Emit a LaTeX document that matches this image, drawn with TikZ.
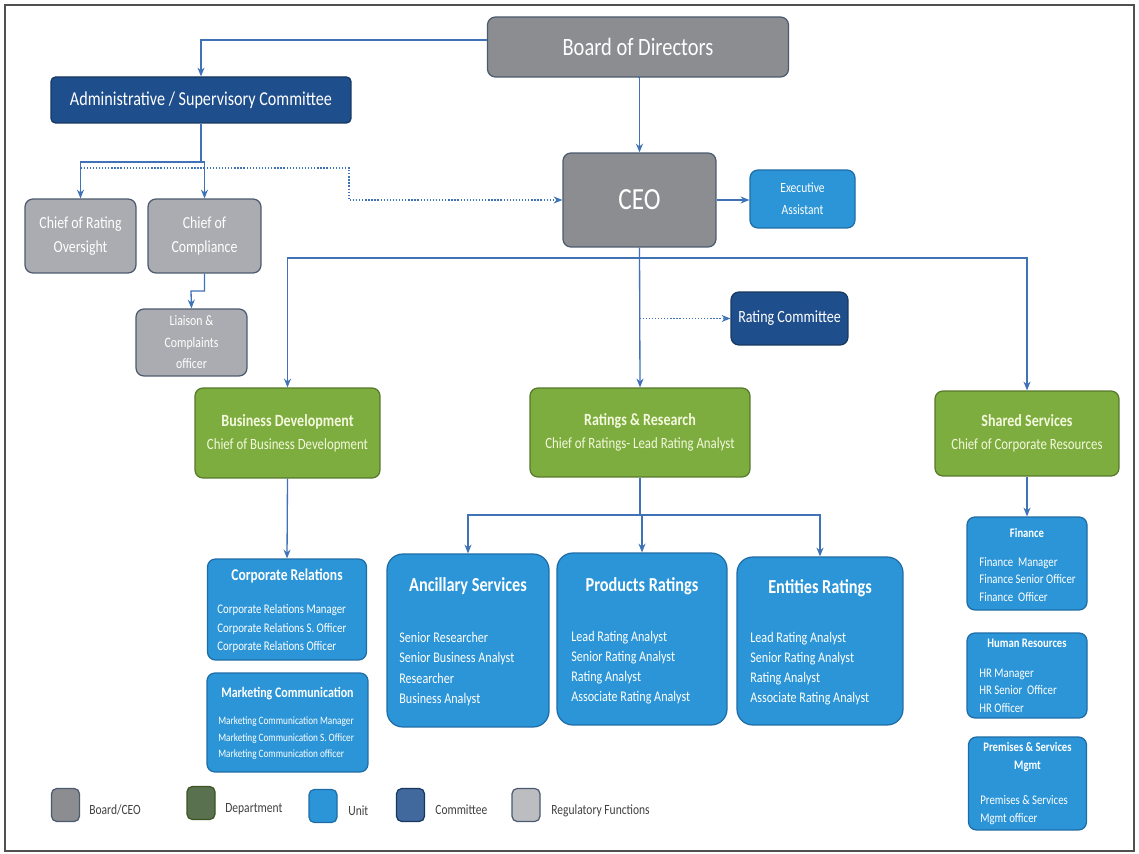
\documentclass[tikz,border=0pt]{standalone}
\usepackage{fontspec}
\setmainfont{Carlito}[FakeStretch=0.82]
\usepackage{tikz}
\usetikzlibrary{arrows.meta}
\definecolor{boardgray}{HTML}{8C8D90}
\definecolor{boardedge}{HTML}{4B5A6E}
\definecolor{regugray}{HTML}{AAACB1}
\definecolor{commblue}{HTML}{1F4E8C}
\definecolor{commedge}{HTML}{17375F}
\definecolor{deptgreen}{HTML}{7DAD3E}
\definecolor{deptedge}{HTML}{56782B}
\definecolor{deptlegend}{HTML}{5A7150}
\definecolor{unitblue}{HTML}{2B95D7}
\definecolor{unitedge}{HTML}{1E6CA6}
\definecolor{linkblue}{HTML}{3F72B6}
\definecolor{depttext}{HTML}{F4F8DE}
\definecolor{legendtext}{HTML}{404040}
\definecolor{framegray}{HTML}{505050}
\tikzset{
  orgbox/.style={draw, line width=0.7pt, rounded corners=4.5pt, inner sep=0pt, align=center, text=white},
  boardbox/.style={orgbox, fill=boardgray, draw=boardedge},
  regbox/.style={orgbox, fill=regugray, draw=boardedge},
  commbox/.style={orgbox, fill=commblue, draw=commedge},
  deptbox/.style={orgbox, fill=deptgreen, draw=deptedge, text=depttext},
  unitbox/.style={orgbox, fill=unitblue, draw=unitedge},
  bigunit/.style={unitbox, rounded corners=9pt},
  boxtext/.style={inner sep=0pt, text=white, align=left},
  boxtitle/.style={inner sep=0pt, text=white, align=center},
  link/.style={draw=linkblue, line width=0.75pt, -{Stealth[length=5pt,width=4pt]}},
  dotlink/.style={link, densely dotted},
  bar/.style={draw=linkblue, line width=0.75pt},
  legendsq/.style={draw, line width=0.7pt, rounded corners=3pt, minimum width=0.56cm, minimum height=0.66cm},
  legendlabel/.style={anchor=west, inner sep=0pt, text=legendtext, font=\fontsize{8}{10}\selectfont}
}
\begin{document}
\begin{tikzpicture}[x=0.02cm, y=-0.02cm]
\useasboundingbox (0,0) rectangle (1139,854);
\draw[framegray, line width=1pt] (5,5) rectangle (1134,851);

\node[boardbox, minimum width=6.02cm, minimum height=1.2cm, font=\fontsize{14.2}{17}\selectfont] (board) at (638,47) {Board of Directors};
\node[commbox, minimum width=6cm, minimum height=0.92cm, rounded corners=2.5pt, font=\fontsize{11.2}{13}\selectfont] (admin) at (201,100) {Administrative / Supervisory Committee};
\node[boardbox, minimum width=3.06cm, minimum height=1.88cm, font=\fontsize{17.5}{20}\selectfont] (ceo) at (639.5,200) {CEO};
\node[unitbox, minimum width=2.1cm, minimum height=1.16cm, font=\fontsize{8}{12.5}\selectfont] (assistant) at (802.5,199) {Executive\\Assistant};
\node[regbox, minimum width=2.22cm, minimum height=1.48cm, font=\fontsize{9.6}{13.6}\selectfont] (oversight) at (80.5,236) {Chief of Rating\\Oversight};
\node[regbox, minimum width=2.26cm, minimum height=1.48cm, font=\fontsize{9.6}{13.6}\selectfont] (compliance) at (204.5,236) {Chief of\\Compliance};
\node[regbox, minimum width=2.22cm, minimum height=1.34cm, font=\fontsize{8.2}{12.2}\selectfont] (liaison) at (191.5,342.5) {Liaison \&\\Complaints\\officer};
\node[commbox, minimum width=2.34cm, minimum height=1.06cm, font=\fontsize{9.75}{12}\selectfont] (ratcom) at (789.5,318.5) {Rating Committee};

\node[deptbox, minimum width=3.7cm, minimum height=1.8cm, font=\fontsize{8.9}{13}\selectfont] (bizdev) at (287.5,433) {{\bfseries\fontsize{9.75}{13}\selectfont Business Development}\\Chief of Business Development};
\node[deptbox, minimum width=4.4cm, minimum height=1.78cm, font=\fontsize{8.9}{13}\selectfont] (ratres) at (640,432.5) {{\bfseries\fontsize{9.75}{13}\selectfont Ratings \& Research}\\Chief of Ratings- Lead Rating Analyst};
\node[deptbox, minimum width=3.68cm, minimum height=1.7cm, font=\fontsize{8.9}{13}\selectfont] (shared) at (1027,433.5) {{\bfseries\fontsize{9.75}{13}\selectfont Shared Services}\\Chief of Corporate Resources};

\node[unitbox, minimum width=3.18cm, minimum height=2.02cm] (corprel) at (287,609.5) {};
\node[boxtitle, font=\bfseries\fontsize{9.4}{11}\selectfont] (corpreltitle) at (287,576) {Corporate Relations};
\node[boxtext, anchor=west, font=\fontsize{7.5}{10.5}\selectfont] (corprelbody) at (217,628.5) {Corporate Relations Manager\\Corporate Relations S. Officer\\Corporate Relations Officer};

\node[unitbox, minimum width=3.22cm, minimum height=1.98cm] (mktcom) at (287.5,722.5) {};
\node[boxtitle, font=\bfseries\fontsize{8.3}{10}\selectfont] (mktcomtitle) at (287.5,694) {Marketing Communication};
\node[boxtext, anchor=west, font=\fontsize{6.4}{9.4}\selectfont] (mktcombody) at (218,738.5) {Marketing Communication Manager\\Marketing Communication S. Officer\\Marketing Communication officer};

\node[bigunit, minimum width=3.24cm, minimum height=3.46cm] (ancil) at (468,640.5) {};
\node[boxtitle, font=\bfseries\fontsize{11.3}{13}\selectfont] (anciltitle) at (468,586) {Ancillary Services};
\node[boxtext, anchor=west, font=\fontsize{8.4}{11.6}\selectfont] (ancilbody) at (399,669) {Senior Researcher\\Senior Business Analyst\\Researcher\\Business Analyst};

\node[bigunit, minimum width=3.4cm, minimum height=3.44cm] (prodrat) at (642,639) {};
\node[boxtitle, font=\bfseries\fontsize{11.3}{13}\selectfont] (prodrattitle) at (642,586) {Products Ratings};
\node[boxtext, anchor=west, font=\fontsize{8.4}{11.4}\selectfont] (prodratbody) at (571,668) {Lead Rating Analyst\\Senior Rating Analyst\\Rating Analyst\\Associate Rating Analyst};

\node[bigunit, minimum width=3.32cm, minimum height=3.36cm] (entrat) at (820,641) {};
\node[boxtitle, font=\bfseries\fontsize{11.3}{13}\selectfont] (entrattitle) at (820,588) {Entities Ratings};
\node[boxtext, anchor=west, font=\fontsize{8.4}{11.4}\selectfont] (entratbody) at (750,669) {Lead Rating Analyst\\Senior Rating Analyst\\Rating Analyst\\Associate Rating Analyst};

\node[unitbox, minimum width=2.4cm, minimum height=1.86cm] (finance) at (1027,563.5) {};
\node[boxtitle, font=\bfseries\fontsize{7.4}{10}\selectfont] (financetitle) at (1027,533) {Finance};
\node[boxtext, anchor=west, font=\fontsize{7.5}{9.9}\selectfont] (financebody) at (979,579.5) {Finance\ \ Manager\\Finance Senior Officer\\Finance\ \ Officer};

\node[unitbox, minimum width=2.4cm, minimum height=1.7cm] (hr) at (1027,675.5) {};
\node[boxtitle, font=\bfseries\fontsize{7.4}{10}\selectfont] (hrtitle) at (1027,643) {Human Resources};
\node[boxtext, anchor=west, font=\fontsize{7.5}{9.9}\selectfont] (hrbody) at (979,690.5) {HR Manager\\HR Senior\ \ Officer\\HR Officer};

\node[unitbox, minimum width=2.36cm, minimum height=1.86cm] (premises) at (1027.5,783.5) {};
\node[boxtitle, font=\bfseries\fontsize{7.4}{10.2}\selectfont] (premisestitle) at (1027.5,757) {Premises \& Services\\Mgmt};
\node[boxtext, anchor=west, font=\fontsize{7.5}{9.9}\selectfont] (premisesbody) at (980,810) {Premises \& Services\\Mgmt officer};

\coordinate (adminsplit) at (201,162);
\coordinate (dotturn) at (349,168);
\coordinate (compbend) at (191,291);
\coordinate (ceobar) at (639.5,258);
\coordinate (rrbar) at (640,515);

\draw[link] ([yshift=0.14cm]board.west) -| (admin.north);
\draw[link] (board.south) -- (ceo.north |- board.south) -- (ceo.north);
\draw[bar] (admin.south) -- (adminsplit);
\draw[link] (adminsplit) -| (oversight.north);
\draw[link] (adminsplit) -| (compliance.north);
\draw[dotlink] (oversight.north |- dotturn) -- (dotturn) |- (ceo.west);
\draw[link] (compliance.south) |- (compbend) -- (liaison.north);
\draw[link] (ceo.east) -- (assistant.west |- ceo.east);
\draw[link] (ceo.south) -- (ratres.north);
\draw[link] (ceobar) -| (bizdev.north);
\draw[link] (ceobar) -| (shared.north);
\draw[dotlink] (ceo.south |- ratcom.west) -- (ratcom.west);
\draw[link] (bizdev.south) -- (corprel.north);
\draw[bar] (ratres.south) -- (rrbar);
\draw[link] (rrbar) -| (ancil.north);
\draw[link] (rrbar) -| (prodrat.north);
\draw[link] (rrbar) -| (entrat.north);
\draw[link] (shared.south) -- (finance.north);

\node[legendsq, fill=boardgray, draw=boardedge] (legboard) at (65.5,805) {};
\node[legendlabel] (legboardtext) at (89,810) {Board/CEO};
\node[legendsq, fill=deptlegend, draw=deptedge!70!black] (legdept) at (201,803) {};
\node[legendlabel] (legdepttext) at (225,809) {Department};
\node[legendsq, fill=unitblue, draw=unitedge] (legunit) at (323,806) {};
\node[legendlabel] (legunittext) at (348,811) {Unit};
\node[legendsq, fill=commblue!85, draw=commedge] (legcomm) at (410.5,805) {};
\node[legendlabel] (legcommtext) at (435,810) {Committee};
\node[legendsq, fill=regugray!80, draw=boardedge] (legreg) at (526,805) {};
\node[legendlabel] (legregtext) at (551,811) {Regulatory Functions};
\end{tikzpicture}
\end{document}
